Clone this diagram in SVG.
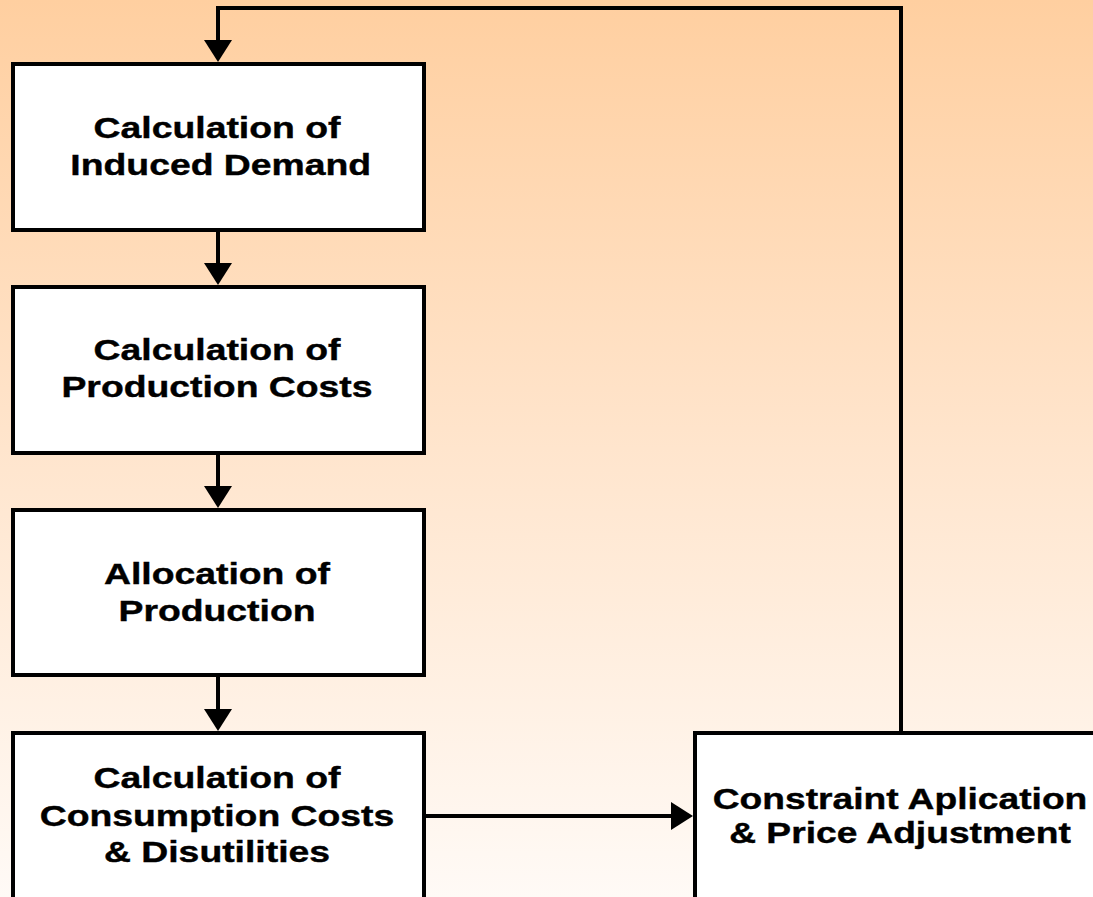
<svg xmlns="http://www.w3.org/2000/svg" width="1093" height="897" viewBox="0 0 1093 897">
  <defs>
    <linearGradient id="bg" x1="0" y1="0" x2="0" y2="1">
      <stop offset="0" stop-color="#FFCFA0"/>
      <stop offset="0.5" stop-color="#FFE5CD"/>
      <stop offset="1" stop-color="#FFFAF6"/>
    </linearGradient>
    <marker id="arrow" markerUnits="userSpaceOnUse" markerWidth="24" markerHeight="30" refX="12" refY="14" orient="auto">
      <path d="M0,0 L22,14 L0,28 Z" fill="#000"/>
    </marker>
    <style>
      .box { fill: #FFFFFF; stroke: #000; stroke-width: 4; }
      .wire { fill: none; stroke: #000; stroke-width: 4; }
      .label { font-family: "Liberation Sans", Arial, sans-serif; font-weight: bold; font-size: 30px; fill: #000; text-anchor: middle; stroke: #000; stroke-width: 0.4; }
    </style>
  </defs>

  <rect x="0" y="0" width="1093" height="897" fill="url(#bg)"/>

  <!-- connectors -->
  <g id="connectors">
    <polyline class="wire" points="901,733 901,8 218,8 218,52" marker-end="url(#arrow)"/>
    <line class="wire" x1="218" y1="230" x2="218" y2="275" marker-end="url(#arrow)"/>
    <line class="wire" x1="218" y1="453" x2="218" y2="498" marker-end="url(#arrow)"/>
    <line class="wire" x1="218" y1="675" x2="218" y2="721" marker-end="url(#arrow)"/>
    <line class="wire" x1="424" y1="816" x2="683" y2="816" marker-end="url(#arrow)"/>
  </g>

  <!-- process steps (labels are drawn horizontally widened) -->
  <g id="induced-demand">
    <rect class="box" x="13" y="64" width="411" height="166"/>
    <g transform="translate(217,0) scale(1.245,1)">
      <text class="label" x="0" y="138">Calculation of</text>
      <text class="label" x="3" y="175">Induced Demand</text>
    </g>
  </g>

  <g id="production-costs">
    <rect class="box" x="13" y="287" width="411" height="166"/>
    <g transform="translate(217,0) scale(1.245,1)">
      <text class="label" x="0" y="360">Calculation of</text>
      <text class="label" x="0" y="397">Production Costs</text>
    </g>
  </g>

  <g id="allocation">
    <rect class="box" x="13" y="510" width="411" height="165"/>
    <g transform="translate(217,0) scale(1.245,1)">
      <text class="label" x="0" y="584">Allocation of</text>
      <text class="label" x="0" y="621">Production</text>
    </g>
  </g>

  <g id="consumption-costs">
    <rect class="box" x="13" y="733" width="411" height="200"/>
    <g transform="translate(217,0) scale(1.245,1)">
      <text class="label" x="0" y="788">Calculation of</text>
      <text class="label" x="0" y="826">Consumption Costs</text>
      <text class="label" x="0" y="862">&amp; Disutilities</text>
    </g>
  </g>

  <g id="constraint-adjustment">
    <rect class="box" x="695" y="733" width="412" height="200"/>
    <g transform="translate(900,0) scale(1.24,1)">
      <text class="label" x="0" y="809">Constraint Aplication</text>
      <text class="label" x="0" y="843">&amp; Price Adjustment</text>
    </g>
  </g>
</svg>
